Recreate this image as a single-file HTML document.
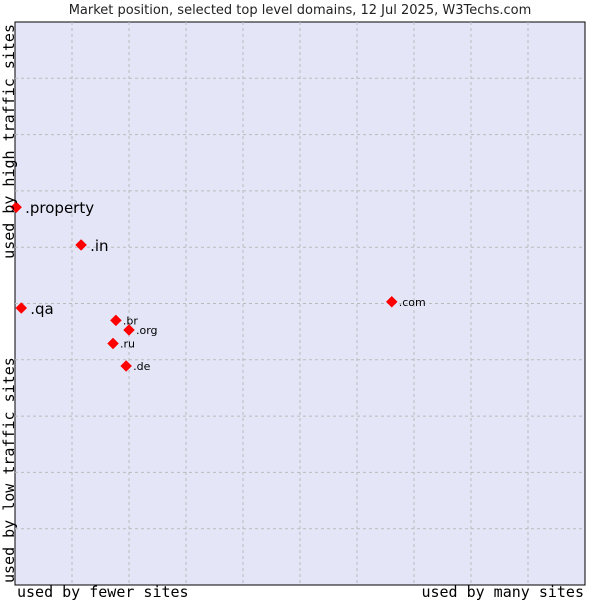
<!DOCTYPE html>
<html><head><meta charset="utf-8"><style>
body{margin:0;background:#fff;width:600px;height:600px;overflow:hidden;font-family:"DejaVu Sans","Liberation Sans",sans-serif}
</style></head><body>
<svg width="600" height="600">
<text x="300" y="14" text-anchor="middle" font-size="13" fill="#222">Market position, selected top level domains, 12 Jul 2025, W3Techs.com</text>
<rect x="15" y="22" width="570" height="563" fill="#e4e6f8" stroke="#000" stroke-width="1"/>
<g id="grid"></g>
<g id="pts"></g>
<text x="17" y="597" font-family="DejaVu Sans Mono,Liberation Mono,monospace" font-size="15" fill="#000">used by fewer sites</text>
<text x="584" y="597" text-anchor="end" font-family="DejaVu Sans Mono,Liberation Mono,monospace" font-size="15" fill="#000">used by many sites</text>
<text transform="translate(14,583) rotate(-90)" font-family="DejaVu Sans Mono,Liberation Mono,monospace" font-size="15" fill="#000">used by low traffic sites</text>
<text transform="translate(14,24) rotate(-90)" text-anchor="end" font-family="DejaVu Sans Mono,Liberation Mono,monospace" font-size="15" fill="#000">used by high traffic sites</text>
</svg>
<script>
const domains=[".property",".in",".qa",".com",".br",".org",".ru",".de"];
const xValues=[0.2,11.6,1.1,66.1,17.7,20.0,17.2,19.5];
const yValues=[67.1,60.4,49.2,50.3,47.0,45.3,42.9,38.9];
const bigLabel=[true,true,true,false,false,false,false,false];
const L=15,T=22,W=570,H=563;
const xs=v=>L+v/100*W, ys=v=>T+H-v/100*H;
const NS="http://www.w3.org/2000/svg";
const g=document.getElementById('grid');
for(let i=1;i<10;i++){
 const vx=document.createElementNS(NS,'line');
 vx.setAttribute('x1',xs(i*10));vx.setAttribute('x2',xs(i*10));vx.setAttribute('y1',T);vx.setAttribute('y2',T+H);
 vx.setAttribute('stroke','#bbb');vx.setAttribute('stroke-dasharray','3,3');
 
 
 g.appendChild(vx);
 const hy=document.createElementNS(NS,'line');
 hy.setAttribute('y1',ys(i*10));hy.setAttribute('y2',ys(i*10));hy.setAttribute('x1',L);hy.setAttribute('x2',L+W);
 hy.setAttribute('stroke','#bbb');hy.setAttribute('stroke-dasharray','3,3');
 
 
 g.appendChild(hy);
}
const p=document.getElementById('pts');
domains.forEach((d,i)=>{
 const x=xs(xValues[i]),y=ys(yValues[i]);
 const m=document.createElementNS(NS,'path');
 m.setAttribute('d',`M${x} ${y-5.5}L${x+5.5} ${y}L${x} ${y+5.5}L${x-5.5} ${y}Z`);
 m.setAttribute('fill','#f00');
 m.setAttribute('stroke','#f00');
 m.setAttribute('stroke-width','0.5');
 m.setAttribute('stroke-linejoin','round');
 
 
 p.appendChild(m);
 const t=document.createElementNS(NS,'text');
 t.setAttribute('x',x+(bigLabel[i]?9:7));t.setAttribute('y',y+(bigLabel[i]?6:4));
 t.setAttribute('font-size',bigLabel[i]?15:11);t.setAttribute('fill','#000');
 t.textContent=d;
 
 
 p.appendChild(t);
});
</script>
</body></html>
